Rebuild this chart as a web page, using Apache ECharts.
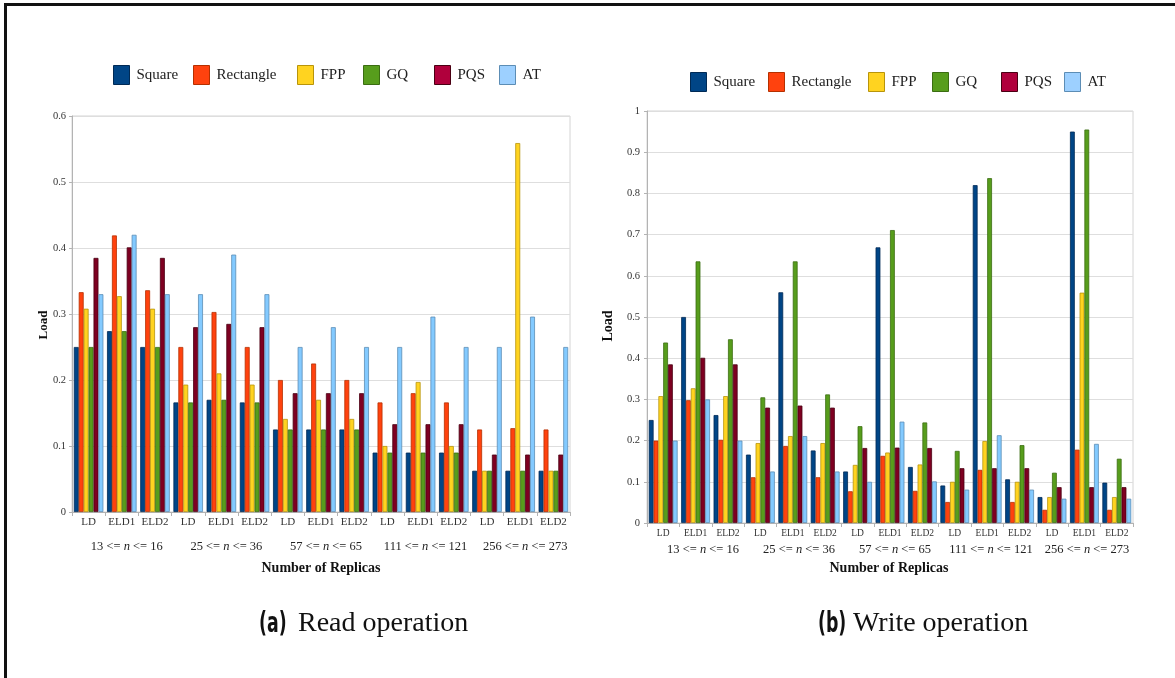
<!DOCTYPE html>
<html>
<head>
<meta charset="utf-8">
<script src="https://cdn.jsdelivr.net/npm/echarts@6/dist/echarts.min.js"></script>
<style>
html,body{margin:0;padding:0;background:#fff;}
#c{width:1175px;height:678px;}
</style>
</head>
<body>
<div id="c"></div>
<script>
// ---- data ----
const categories = ['LD','ELD1','ELD2','LD','ELD1','ELD2','LD','ELD1','ELD2','LD','ELD1','ELD2','LD','ELD1','ELD2'];
const groupLabels = ['13 <= n <= 16','25 <= n <= 36','57 <= n <= 65','111 <= n <= 121','256 <= n <= 273'];
const seriesNames = ['Square','Rectangle','FPP','GQ','PQS','AT'];

// Read operation
const readSquare    = [0.25,0.274,0.25, 0.166,0.17,0.166, 0.125,0.125,0.125, 0.09,0.09,0.09, 0.0625,0.0625,0.0625];
const readRectangle = [0.333,0.419,0.336, 0.25,0.303,0.25, 0.2,0.225,0.2, 0.166,0.18,0.166, 0.125,0.127,0.125];
const readFPP       = [0.308,0.327,0.308, 0.193,0.21,0.193, 0.141,0.17,0.141, 0.1,0.197,0.1, 0.0625,0.559,0.0625];
const readGQ        = [0.25,0.274,0.25, 0.166,0.17,0.166, 0.125,0.125,0.125, 0.09,0.09,0.09, 0.0625,0.0625,0.0625];
const readPQS       = [0.385,0.401,0.385, 0.28,0.285,0.28, 0.18,0.18,0.18, 0.133,0.133,0.133, 0.087,0.087,0.087];
const readAT        = [0.33,0.42,0.33, 0.33,0.39,0.33, 0.25,0.28,0.25, 0.25,0.296,0.25, 0.25,0.296,0.25];

// Write operation
const writeSquare    = [0.25,0.5,0.262, 0.166,0.56,0.176, 0.125,0.669,0.136, 0.091,0.82,0.106, 0.063,0.95,0.098];
const writeRectangle = [0.2,0.298,0.202, 0.111,0.187,0.111, 0.077,0.163,0.078, 0.051,0.129,0.051, 0.032,0.178,0.032];
const writeFPP       = [0.308,0.327,0.308, 0.194,0.211,0.194, 0.141,0.171,0.142, 0.1,0.199,0.1, 0.063,0.559,0.063];
const writeGQ        = [0.438,0.635,0.446, 0.305,0.635,0.312, 0.235,0.711,0.244, 0.175,0.837,0.189, 0.122,0.955,0.156];
const writePQS       = [0.385,0.401,0.385, 0.28,0.285,0.28, 0.182,0.183,0.182, 0.133,0.133,0.133, 0.087,0.087,0.087];
const writeAT        = [0.2,0.3,0.2, 0.125,0.211,0.125, 0.1,0.246,0.101, 0.081,0.213,0.081, 0.059,0.192,0.059];

const readTicks = [0, 0.6, 0.1];   // min, max, interval
const writeTicks = [0, 1, 0.1];

// ---- styles ----
const colors  = ['#004586','#ff420e','#ffd320','#579d1c','#7e0021','#83caff'];
const borders = ['#002a55','#b53000','#b8940a','#3b6d12','#4a0013','#5c8db5'];
const legendColors = ['#004586','#ff420e','#ffd320','#579d1c','#b0003c','#9dd0ff'];
const SERIF = '"Liberation Serif", "DejaVu Serif", serif';

const readData  = [readSquare, readRectangle, readFPP, readGQ, readPQS, readAT];
const writeData = [writeSquare, writeRectangle, writeFPP, writeGQ, writePQS, writeAT];

const chart = echarts.init(document.getElementById('c'), null, {renderer:'canvas'});

function mainX(gridIndex, fontSize, margin) {
  return {
    type:'category', gridIndex, data: categories,
    axisLine:{show:true, lineStyle:{color:'#b3b3b3', width:1}},
    axisTick:{show:true, length:4, lineStyle:{color:'#b3b3b3'}},
    axisLabel:{interval:0, fontFamily:SERIF, fontSize, color:'#333', margin},
    splitLine:{show:false}
  };
}
function groupX(gridIndex, margin) {
  return {
    type:'category', gridIndex, data: groupLabels,
    axisLine:{show:false}, axisTick:{show:false}, splitLine:{show:false},
    axisLabel:{interval:0, fontFamily:SERIF, fontSize:12.5, color:'#222', margin,
      formatter: v => v.replace(' n ', ' {i|n} '),
      rich:{i:{fontStyle:'italic', fontFamily:SERIF, fontSize:12.5, color:'#222'}}}
  };
}
function mainY(gridIndex, ticks, fontSize, margin) {
  return {
    type:'value', gridIndex, min:ticks[0], max:ticks[1], interval:ticks[2],
    axisLine:{show:true, lineStyle:{color:'#b3b3b3'}},
    axisTick:{show:true, length:3, lineStyle:{color:'#b3b3b3'}},
    axisLabel:{fontFamily:SERIF, fontSize, color:'#333', margin},
    splitLine:{show:true, lineStyle:{color:'#dedede', width:1}}
  };
}
function hiddenY(gridIndex){ return {type:'value', gridIndex, show:false, min:0, max:1}; }

const series = [];
seriesNames.forEach((name, i) => {
  series.push({
    name, type:'bar', xAxisIndex:0, yAxisIndex:0, data: readData[i],
    barGap:'0%', barCategoryGap:'11%',
    itemStyle:{color:colors[i], borderColor:borders[i], borderWidth:0.8},
    emphasis:{disabled:true}
  });
});
seriesNames.forEach((name, i) => {
  series.push({
    name, type:'bar', xAxisIndex:2, yAxisIndex:2, data: writeData[i],
    barGap:'0%', barCategoryGap:'11%',
    itemStyle:{color:colors[i], borderColor:borders[i], borderWidth:0.8},
    emphasis:{disabled:true}
  });
});

const leftLegendX  = [113,193,297,363,434,499];
const rightLegendX = [690,768,868,932,1001,1064];
const legends = [];
function addLegends(xs, top) {
  seriesNames.forEach((name, i) => {
    legends.push({
      data:[{name, icon:'rect', itemStyle:{color:legendColors[i], borderColor:borders[i], borderWidth:1}}],
      left: xs[i], top, padding:0, itemWidth:16, itemHeight:19, selectedMode:false,
      textStyle:{fontFamily:SERIF, fontSize:15, color:'#222', padding:[0,0,7,2]}
    });
  });
}
addLegends(leftLegendX, 65);
addLegends(rightLegendX, 72);

const option = {
  animation:false,
  backgroundColor:'#ffffff',
  legend: legends,
  grid:[
    {left:72, top:116, width:498, height:396, show:true, borderColor:'#d4d4d4', borderWidth:1, backgroundColor:'transparent'},
    {left:77, top:116, width:498, height:396, show:false},
    {left:647, top:111, width:486, height:412, show:true, borderColor:'#d4d4d4', borderWidth:1, backgroundColor:'transparent'},
    {left:655, top:111, width:480, height:412, show:false}
  ],
  xAxis:[ mainX(0, 11, 5), groupX(1, 28), mainX(2, 9.5, 5), groupX(3, 20) ],
  yAxis:[ mainY(0, readTicks, 10.5, 6), hiddenY(1), mainY(2, writeTicks, 10.5, 7), hiddenY(3) ],
  series,
  graphic:[
    {type:'polyline', shape:{points:[[5.5,678],[5.5,4.5],[1175,4.5]]}, style:{stroke:'#111', lineWidth:3, fill:null}, silent:true},
    {type:'text', x:44, y:325, rotation:Math.PI/2, style:{text:'Load', font:'bold 13px "Liberation Serif"', fill:'#111', align:'center', verticalAlign:'middle'}},
    {type:'text', x:608, y:326, rotation:Math.PI/2, style:{text:'Load', font:'bold 14px "Liberation Serif"', fill:'#111', align:'center', verticalAlign:'middle'}},
    {type:'text', x:321, y:568, style:{text:'Number of Replicas', font:'bold 14px "Liberation Serif"', fill:'#111', align:'center', verticalAlign:'middle'}},
    {type:'text', x:889, y:568, style:{text:'Number of Replicas', font:'bold 14px "Liberation Serif"', fill:'#111', align:'center', verticalAlign:'middle'}},
    {type:'text', x:259, y:625, scaleX:0.62, style:{text:'(a)', font:'bold 28px "DejaVu Sans"', fill:'#111', align:'left', verticalAlign:'middle'}},
    {type:'text', x:298, y:624, style:{text:'Read operation', font:'28px "Liberation Serif"', fill:'#111', align:'left', verticalAlign:'middle'}},
    {type:'text', x:818, y:625, scaleX:0.62, style:{text:'(b)', font:'bold 28px "DejaVu Sans"', fill:'#111', align:'left', verticalAlign:'middle'}},
    {type:'text', x:853, y:624, style:{text:'Write operation', font:'28px "Liberation Serif"', fill:'#111', align:'left', verticalAlign:'middle'}}
  ]
};
chart.setOption(option);
</script>
</body>
</html>
